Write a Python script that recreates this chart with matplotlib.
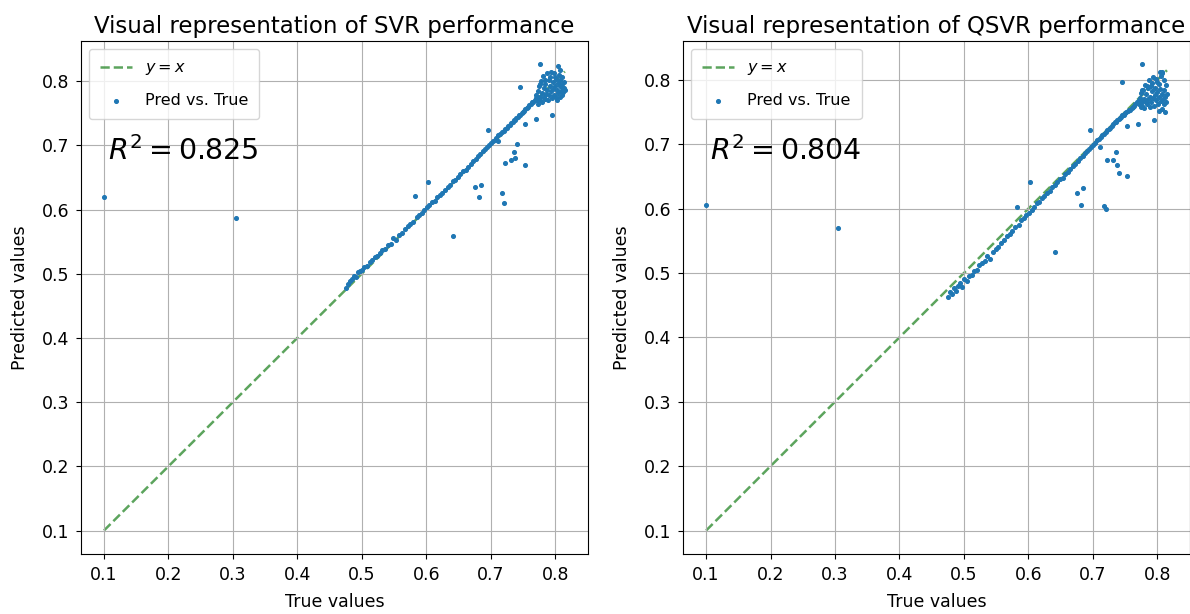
import matplotlib
matplotlib.use("Agg")
import matplotlib.pyplot as plt
import numpy as np

# true values and model predictions, split into groups for readability
# outliers away from the diagonal
out_true = [0.100, 0.305, 0.641, 0.582, 0.603, 0.676, 0.685, 0.682, 0.717, 0.720,
            0.736, 0.738, 0.731, 0.722, 0.753, 0.741, 0.696, 0.753, 0.770, 0.795,
            0.746, 0.777, 0.804, 0.711]
out_svr = [0.620, 0.587, 0.558, 0.621, 0.643, 0.635, 0.638, 0.620, 0.625, 0.610,
           0.690, 0.681, 0.677, 0.673, 0.669, 0.702, 0.724, 0.733, 0.741, 0.748,
           0.791, 0.826, 0.823, 0.706]
out_qsvr = [0.606, 0.570, 0.533, 0.603, 0.641, 0.624, 0.632, 0.605, 0.604, 0.599,
            0.688, 0.668, 0.676, 0.676, 0.651, 0.655, 0.722, 0.728, 0.731, 0.737,
            0.797, 0.824, 0.813, 0.696]

# points along the diagonal
band_true = [0.475, 0.478, 0.482, 0.485, 0.488, 0.491, 0.494, 0.497, 0.500, 0.504,
             0.508, 0.512, 0.516, 0.520, 0.524, 0.528, 0.532, 0.536, 0.540, 0.545,
             0.549, 0.553, 0.558, 0.562, 0.567, 0.571, 0.575, 0.580, 0.585, 0.589,
             0.593, 0.597, 0.601, 0.605, 0.609, 0.613, 0.617, 0.621, 0.625, 0.629,
             0.633, 0.637, 0.641, 0.645, 0.649, 0.653, 0.657, 0.661, 0.665, 0.669,
             0.673, 0.677, 0.680, 0.684, 0.688, 0.691, 0.694, 0.697, 0.700, 0.703,
             0.706, 0.709, 0.712, 0.714, 0.717, 0.720, 0.722, 0.725, 0.727, 0.730,
             0.732, 0.734, 0.736, 0.738, 0.740, 0.742, 0.744, 0.746, 0.748, 0.750,
             0.752, 0.754, 0.756, 0.758, 0.760, 0.762, 0.764, 0.766, 0.768, 0.770]
band_svr = [0.478, 0.484, 0.489, 0.492, 0.497, 0.495, 0.502, 0.505, 0.506, 0.510,
            0.512, 0.518, 0.521, 0.526, 0.528, 0.532, 0.537, 0.538, 0.545, 0.547,
            0.556, 0.552, 0.561, 0.563, 0.570, 0.574, 0.577, 0.581, 0.589, 0.592,
            0.595, 0.599, 0.604, 0.607, 0.612, 0.614, 0.619, 0.622, 0.625, 0.631,
            0.635, 0.638, 0.644, 0.646, 0.651, 0.655, 0.660, 0.662, 0.666, 0.671,
            0.676, 0.678, 0.684, 0.686, 0.691, 0.694, 0.697, 0.701, 0.703, 0.706,
            0.709, 0.711, 0.716, 0.717, 0.720, 0.722, 0.726, 0.727, 0.730, 0.731,
            0.735, 0.736, 0.739, 0.740, 0.743, 0.744, 0.747, 0.748, 0.750, 0.752,
            0.754, 0.757, 0.758, 0.760, 0.763, 0.764, 0.767, 0.768, 0.770, 0.773]
band_qsvr = [0.463, 0.470, 0.468, 0.476, 0.472, 0.480, 0.485, 0.478, 0.490, 0.488,
             0.495, 0.497, 0.503, 0.505, 0.512, 0.515, 0.518, 0.526, 0.522, 0.533,
             0.537, 0.541, 0.547, 0.552, 0.558, 0.560, 0.566, 0.572, 0.575, 0.582,
             0.586, 0.590, 0.594, 0.598, 0.603, 0.608, 0.611, 0.616, 0.620, 0.625,
             0.628, 0.633, 0.636, 0.641, 0.646, 0.648, 0.654, 0.657, 0.661, 0.666,
             0.670, 0.674, 0.678, 0.681, 0.686, 0.690, 0.692, 0.696, 0.699, 0.702,
             0.706, 0.708, 0.712, 0.715, 0.716, 0.719, 0.722, 0.724, 0.726, 0.729,
             0.731, 0.734, 0.735, 0.738, 0.739, 0.741, 0.743, 0.745, 0.746, 0.749,
             0.750, 0.752, 0.753, 0.754, 0.757, 0.758, 0.760, 0.762, 0.765, 0.766]

# dense cluster at the top end
top_true = [0.771, 0.772, 0.773, 0.774, 0.775, 0.776, 0.777, 0.778, 0.779, 0.780,
            0.781, 0.782, 0.783, 0.784, 0.785, 0.786, 0.787, 0.788, 0.789, 0.790,
            0.791, 0.792, 0.793, 0.794, 0.795, 0.796, 0.797, 0.798, 0.799, 0.800,
            0.801, 0.802, 0.803, 0.804, 0.805, 0.806, 0.807, 0.807, 0.808, 0.809,
            0.810, 0.810, 0.811, 0.812, 0.812, 0.813, 0.814, 0.815, 0.808, 0.803,
            0.798, 0.792, 0.784, 0.776]
top_svr = [0.778, 0.770, 0.785, 0.765, 0.792, 0.775, 0.770, 0.800, 0.782, 0.768,
           0.808, 0.776, 0.790, 0.772, 0.796, 0.780, 0.812, 0.786, 0.770, 0.801,
           0.778, 0.793, 0.784, 0.815, 0.774, 0.798, 0.788, 0.779, 0.806, 0.792,
           0.776, 0.803, 0.786, 0.797, 0.781, 0.810, 0.792, 0.775, 0.801, 0.785,
           0.795, 0.779, 0.806, 0.789, 0.783, 0.798, 0.790, 0.786, 0.818, 0.770,
           0.812, 0.806, 0.802, 0.796]
top_qsvr = [0.768, 0.762, 0.772, 0.758, 0.780, 0.766, 0.760, 0.785, 0.771, 0.756,
            0.792, 0.765, 0.778, 0.762, 0.787, 0.770, 0.800, 0.774, 0.758, 0.790,
            0.766, 0.782, 0.772, 0.805, 0.760, 0.788, 0.776, 0.768, 0.797, 0.781,
            0.762, 0.794, 0.774, 0.786, 0.767, 0.806, 0.778, 0.755, 0.810, 0.770,
            0.800, 0.762, 0.785, 0.773, 0.750, 0.792, 0.765, 0.778, 0.812, 0.752,
            0.801, 0.795, 0.791, 0.784]

r2_scores = [0.825, 0.804]
model_names = ["SVR", "QSVR"]

y_true = np.array(out_true + band_true + top_true)
preds = [np.array(out_svr + band_svr + top_svr),
         np.array(out_qsvr + band_qsvr + top_qsvr)]

fig = plt.figure(figsize=(11.9, 6.14), dpi=100)
positions = [[0.068, 0.098, 0.426, 0.835], [0.574, 0.098, 0.426, 0.835]]

for pos, name, pred, r2 in zip(positions, model_names, preds, r2_scores):
    ax = fig.add_axes(pos)
    lo, hi = y_true.min(), y_true.max()
    ax.plot([lo, hi], [lo, hi], '--', color='#3f9440', alpha=0.85, lw=1.8,
            label='$y = x$', zorder=1)
    ax.scatter(y_true, pred, s=7, color='tab:blue', label='Pred vs. True', zorder=2)
    ax.text(0.053, 0.768, f'$R^2 = {r2}$', transform=ax.transAxes, fontsize=20.5)
    ax.set_title(f'Visual representation of {name} performance', fontsize=16.5)
    ax.set_xlabel('True values', fontsize=12.5, labelpad=7)
    ax.set_ylabel('Predicted values', fontsize=12.5, labelpad=9)
    ax.tick_params(labelsize=12.5, pad=5)
    ax.set_xticks(np.arange(0.1, 0.85, 0.1))
    ax.set_yticks(np.arange(0.1, 0.85, 0.1))
    ax.legend(loc='upper left', fontsize=11.5, labelspacing=1.0, borderpad=0.7)
    ax.grid(True)

fig.savefig('out.png', dpi=100)
